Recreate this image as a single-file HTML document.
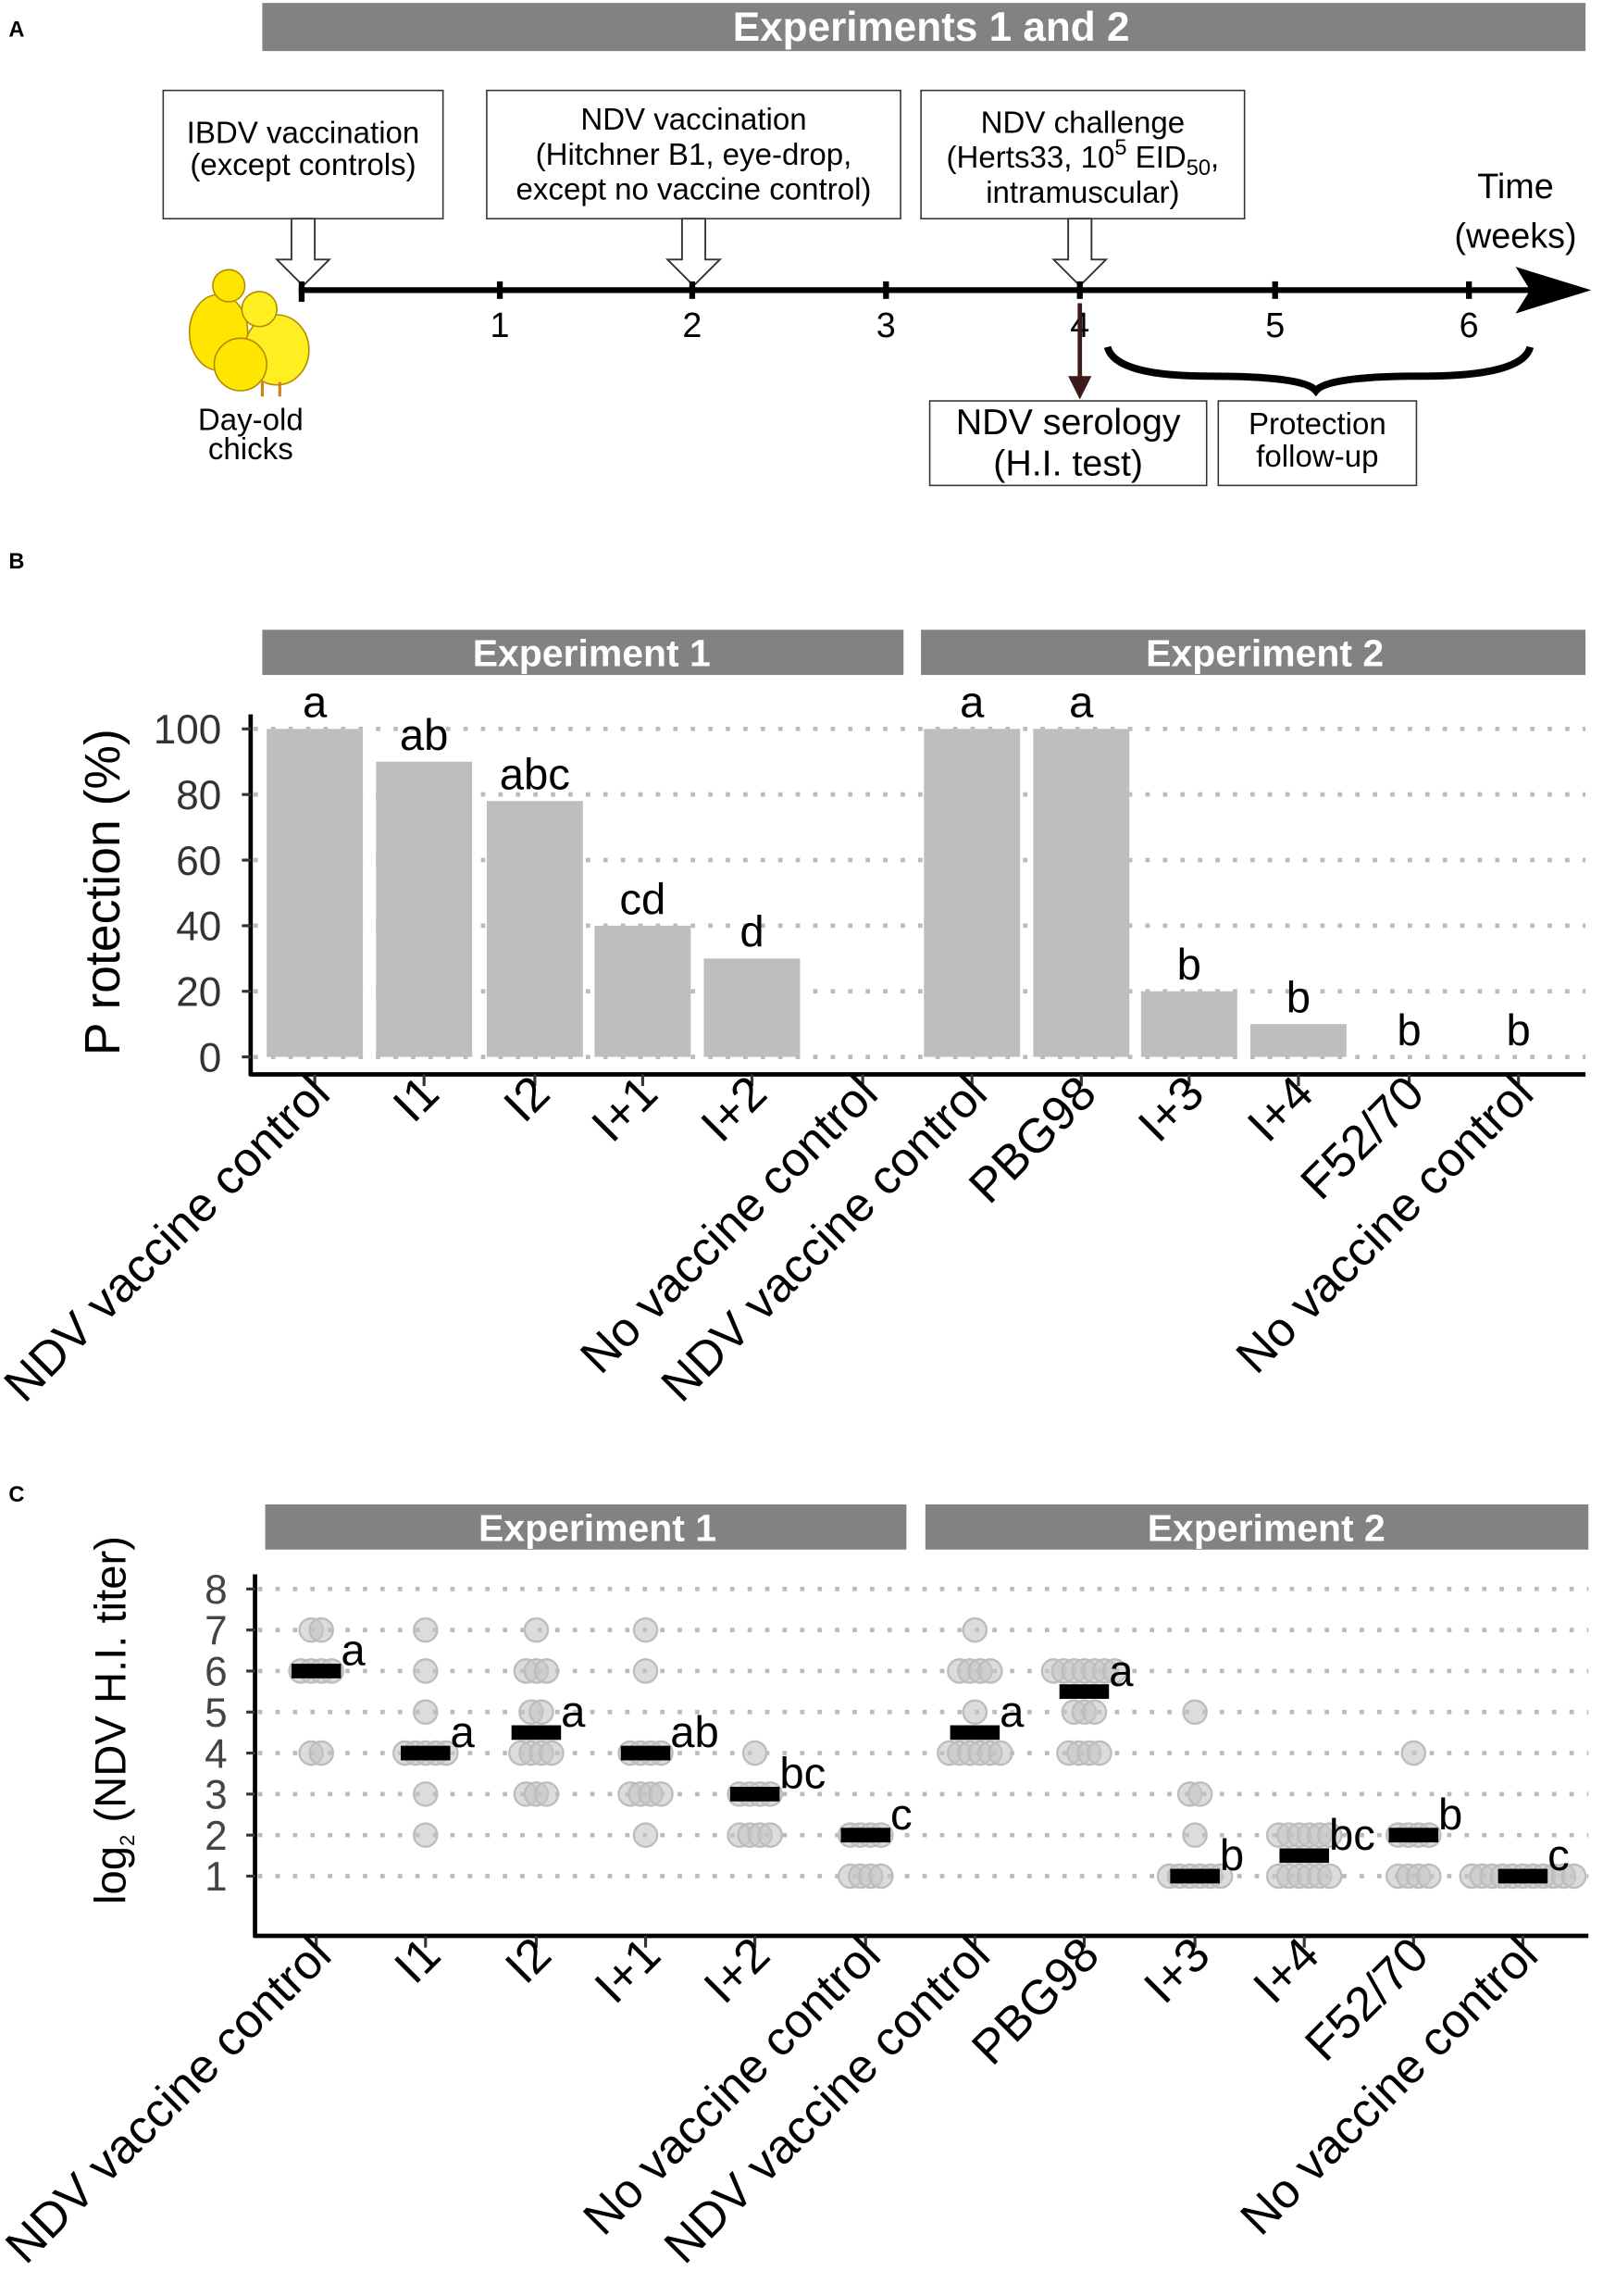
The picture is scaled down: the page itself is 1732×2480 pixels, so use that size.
<!DOCTYPE html>
<html><head><meta charset="utf-8"><style>
html,body{margin:0;padding:0;background:#fff}
svg{display:block}
text{font-family:"Liberation Sans",sans-serif}
</style></head><body>
<svg id="s" width="1732" height="2480" viewBox="0 0 1100 1575" xmlns="http://www.w3.org/2000/svg">
<rect width="1100" height="1575" fill="#fff"/>
<!-- Panel A -->
<text x="6" y="25" font-size="15" font-weight="bold">A</text>
<rect x="180" y="2" width="908" height="33" fill="#828282"/>
<text x="639" y="28" font-size="28" font-weight="bold" fill="#fff" text-anchor="middle">Experiments 1 and 2</text>
<g fill="#fff" stroke="#333" stroke-width="1">
<rect x="112" y="62" width="192" height="88"/>
<rect x="334" y="62" width="284" height="88"/>
<rect x="632" y="62" width="222" height="88"/>
<rect x="638" y="275" width="190" height="58"/>
<rect x="836" y="275" width="136" height="58"/>
</g>
<g font-size="21" text-anchor="middle">
<text x="208" y="98">IBDV vaccination</text><text x="208" y="120">(except  controls)</text>
<text x="476" y="89">NDV  vaccination</text><text x="476" y="113">(Hitchner B1, eye-drop,</text><text x="476" y="137">except no vaccine control)</text>
<text x="743" y="91">NDV  challenge</text><text x="743" y="115">(Herts33, 10<tspan dy="-9" font-size="15">5</tspan><tspan dy="9"> EID</tspan><tspan dy="5" font-size="15">50</tspan><tspan dy="-5">,</tspan></text><text x="743" y="139">intramuscular)</text>
<text x="733" y="298" font-size="25">NDV serology</text><text x="733" y="326" font-size="25">(H.I. test)</text>
<text x="904" y="298">Protection</text><text x="904" y="320">follow-up</text>
<text x="172" y="295">Day-old</text><text x="172" y="315">chicks</text>
</g>
<g fill="#fff" stroke="#333" stroke-width="1.2">
<path d="M200 150 H216 V178 H226 L208 196 L190 178 H200 Z"/>
<path d="M468 150 H484 V178 H494 L476 196 L458 178 H468 Z"/>
<path d="M733 150 H749 V178 H759 L741 196 L723 178 H733 Z"/>
</g>
<line x1="205" y1="199" x2="1050" y2="199" stroke="#000" stroke-width="4"/>
<path d="M1040 183 L1092 199 L1040 215 L1050 199 Z" fill="#000"/>
<g stroke="#000" stroke-width="4">
<line x1="207" y1="193" x2="207" y2="207"/><line x1="343" y1="193" x2="343" y2="205"/><line x1="475" y1="193" x2="475" y2="205"/><line x1="608" y1="193" x2="608" y2="205"/><line x1="741" y1="193" x2="741" y2="205"/><line x1="875" y1="193" x2="875" y2="205"/><line x1="1008" y1="193" x2="1008" y2="205"/>
</g>
<g font-size="24" text-anchor="middle">
<text x="343" y="231">1</text><text x="475" y="231">2</text><text x="608" y="231">3</text><text x="741" y="231">4</text><text x="875" y="231">5</text><text x="1008" y="231">6</text>
<text x="1040" y="136">Time</text><text x="1040" y="170">(weeks)</text>
</g>
<line x1="741" y1="208" x2="741" y2="262" stroke="#3a1a1a" stroke-width="3"/>
<path d="M733 258 L749 258 L741 274 Z" fill="#3a1a1a"/>
<path d="M760 238 Q765 258 830 258 Q895 258 903 268 Q911 258 976 258 Q1045 258 1050 238" fill="none" stroke="#000" stroke-width="5"/>
<g stroke="#b08a00" stroke-width="1">
<ellipse cx="150" cy="228" rx="20" ry="26" fill="#ffe600"/>
<circle cx="157" cy="196" r="11" fill="#ffe600"/>
<ellipse cx="190" cy="240" rx="22" ry="24" fill="#ffee20"/>
<circle cx="178" cy="212" r="12" fill="#ffee20"/>
<ellipse cx="165" cy="250" rx="18" ry="18" fill="#ffe600"/>
</g>
<g stroke="#d08020" stroke-width="2"><line x1="180" y1="262" x2="180" y2="272"/><line x1="192" y1="262" x2="192" y2="272"/></g>

<!-- Panel B -->
<text x="6" y="390" font-size="15" font-weight="bold">B</text>
<rect x="180" y="432" width="440" height="31" fill="#828282"/>
<rect x="632" y="432" width="456" height="31" fill="#828282"/>
<text x="406" y="457" font-size="26" font-weight="bold" fill="#fff" text-anchor="middle">Experiment 1</text>
<text x="868" y="457" font-size="26" font-weight="bold" fill="#fff" text-anchor="middle">Experiment 2</text>
<g id="bgrid"></g><g id="bbars"></g>
<line x1="172" y1="490" x2="172" y2="738" stroke="#000" stroke-width="3"/>
<line x1="171" y1="737" x2="1088" y2="737" stroke="#000" stroke-width="3"/>
<text transform="translate(82,612) rotate(-90)" font-size="34" text-anchor="middle">P rotection (%)</text>

<!-- Panel C -->
<text x="6" y="1030" font-size="15" font-weight="bold">C</text>
<rect x="182" y="1032" width="440" height="31" fill="#828282"/>
<rect x="635" y="1032" width="455" height="31" fill="#828282"/>
<text x="410" y="1057" font-size="26" font-weight="bold" fill="#fff" text-anchor="middle">Experiment 1</text>
<text x="869" y="1057" font-size="26" font-weight="bold" fill="#fff" text-anchor="middle">Experiment 2</text>
<g id="cgrid"></g><g id="cdots"></g>
<line x1="175" y1="1080" x2="175" y2="1329" stroke="#000" stroke-width="3"/>
<line x1="174" y1="1328" x2="1090" y2="1328" stroke="#000" stroke-width="3"/>
<text transform="translate(86,1180) rotate(-90)" font-size="30" text-anchor="middle">log<tspan font-size="14" dy="6">2</tspan><tspan dy="-6"> (NDV H.I. titer)</tspan></text>
</svg>
<script>
var NS="http://www.w3.org/2000/svg",s=document.getElementById('s');
function el(p,t,a,txt){var e=document.createElementNS(NS,t);for(var k in a)e.setAttribute(k,a[k]);if(txt!=null)e.textContent=txt;p.appendChild(e);return e;}
var names=["NDV vaccine control","I1","I2","I+1","I+2","No vaccine control","NDV vaccine control","PBG98","I+3","I+4","F52/70","No vaccine control"];
// Panel B
var bx=[216,291,367,441,516,592,667,742,816,891,967,1042];
var bv=[100,90,78,40,30,0,100,100,20,10,0,0];
var bl=["a","ab","abc","cd","d","","a","a","b","b","b","b"];
var g=document.getElementById('bgrid');
function yb(v){return 725-v*2.25;}
for(var v=0;v<=100;v+=20){el(g,'line',{x1:174,x2:1088,y1:yb(v),y2:yb(v),stroke:'#bbb','stroke-width':3,'stroke-dasharray':'3 9'});
 el(s,'text',{x:152,y:yb(v)+10,'font-size':28,'text-anchor':'end',fill:'#333'},String(v));
 el(s,'line',{x1:166,x2:172,y1:yb(v),y2:yb(v),stroke:'#333','stroke-width':2});}
var bb=document.getElementById('bbars');
for(var i=0;i<12;i++){var x=bx[i];
 if(bv[i]>0)el(bb,'rect',{x:x-33,y:yb(bv[i]),width:66,height:725-yb(bv[i]),fill:'#bebebe'});
 if(bl[i])el(s,'text',{x:x,y:(bv[i]>0?yb(bv[i])-8:717),'font-size':30,'text-anchor':'middle'},bl[i]);
 el(s,'line',{x1:x,x2:x,y1:737,y2:745,stroke:'#333','stroke-width':2});
 el(s,'text',{transform:'translate('+(x+12)+',752) rotate(-45)','font-size':33,'text-anchor':'end'},names[i]);}
// Panel C
var cx=[217,292,368,443,518,594,669,744,820,895,970,1045];
function yc(v){return 1287-(v-1)*28.14;}
var cg=document.getElementById('cgrid');
for(var v=1;v<=8;v++){el(cg,'line',{x1:177,x2:1090,y1:yc(v),y2:yc(v),stroke:'#bbb','stroke-width':3,'stroke-dasharray':'3 9'});
 el(s,'text',{x:156,y:yc(v)+10,'font-size':28,'text-anchor':'end',fill:'#444'},String(v));
 el(s,'line',{x1:169,x2:175,y1:yc(v),y2:yc(v),stroke:'#333','stroke-width':2});}
var dots=[{7:2,6:4,4:2},{7:1,6:1,5:1,4:5,3:1,2:1},{7:1,6:3,5:2,4:4,3:3},{7:1,6:1,4:4,3:4,2:1},{4:1,3:4,2:4},{2:4,1:4},
{7:1,6:4,5:1,4:6},{6:7,5:3,4:4},{5:1,3:2,2:1,1:6},{2:6,1:6},{4:1,2:4,1:4},{1:11}];
var means=[6,4,4.5,4,3,2,4.5,5.5,1,1.5,2,1];
var cl=["a","a","a","ab","bc","c","a","a","b","bc","b","c"];
var cd=document.getElementById('cdots');
for(var i=0;i<12;i++){var x=cx[i];
 for(var k in dots[i]){var n=dots[i][k];for(var j=0;j<n;j++){var ox=(j-(n-1)/2)*7;
  el(cd,'circle',{cx:x+ox,cy:yc(+k),r:8,fill:'#c4c4c4','fill-opacity':0.6,stroke:'#bdbdbd','stroke-width':1.5});}}
 el(s,'rect',{x:x-17,y:yc(means[i])-5,width:34,height:10,fill:'#000'});
 el(s,'text',{x:x+17,y:yc(means[i])-4,'font-size':30},cl[i]);
 el(s,'line',{x1:x,x2:x,y1:1328,y2:1336,stroke:'#333','stroke-width':2});
 el(s,'text',{transform:'translate('+(x+12)+',1343) rotate(-45)','font-size':33,'text-anchor':'end'},names[i]);}
</script>
</body></html>
